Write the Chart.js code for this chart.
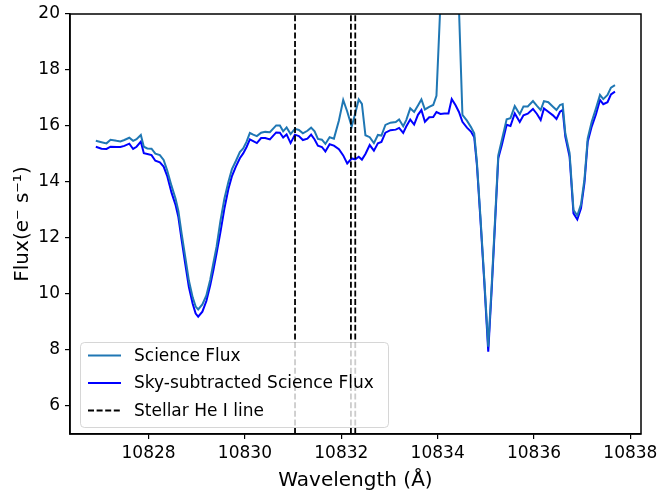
<!DOCTYPE html>
<html>
<head>
<meta charset="utf-8">
<script src="https://cdn.jsdelivr.net/npm/chart.js@4.4.1/dist/chart.umd.min.js"></script>
<style>
    html, body { margin: 0; padding: 0; background: #ffffff; }
    #wrap { width: 657px; height: 493px; }
</style>
</head>
<body>
<div id="wrap"><canvas id="fluxChart" width="657" height="493"></canvas></div>
<script>
// Wavelength grid (Angstrom) shared by both spectra
const wavelength = [
    10826.906, 10827.024, 10827.128, 10827.211, 10827.336, 10827.415, 10827.498, 10827.601, 10827.680, 10827.751,
    10827.840, 10827.902, 10827.975, 10828.062, 10828.141, 10828.235, 10828.313, 10828.386, 10828.477, 10828.561,
    10828.619, 10828.685, 10828.764, 10828.837, 10828.916, 10828.978, 10829.030, 10829.117, 10829.200, 10829.279,
    10829.345, 10829.412, 10829.491, 10829.574, 10829.657, 10829.729, 10829.812, 10829.895, 10829.964, 10830.035,
    10830.103, 10830.172, 10830.248, 10830.336, 10830.421, 10830.518, 10830.649, 10830.726, 10830.794, 10830.865,
    10830.948, 10831.037, 10831.120, 10831.203, 10831.297, 10831.374, 10831.446, 10831.515, 10831.598, 10831.670,
    10831.758, 10831.847, 10831.951, 10832.040, 10832.123, 10832.216, 10832.289, 10832.362, 10832.428, 10832.501,
    10832.590, 10832.677, 10832.760, 10832.833, 10832.916, 10833.020, 10833.130, 10833.200, 10833.285, 10833.348,
    10833.431, 10833.512, 10833.591, 10833.663, 10833.736, 10833.825, 10833.908, 10833.975, 10834.058, 10834.141,
    10834.224, 10834.292, 10834.369, 10834.442, 10834.514, 10834.608, 10834.691, 10834.759, 10834.815, 10834.888,
    10834.967, 10835.050, 10835.121, 10835.189, 10835.258, 10835.332, 10835.432, 10835.511, 10835.600, 10835.704,
    10835.781, 10835.870, 10835.978, 10836.061, 10836.138, 10836.206, 10836.296, 10836.393, 10836.466, 10836.539,
    10836.595, 10836.649, 10836.738, 10836.819, 10836.898, 10836.975, 10837.047, 10837.114, 10837.197, 10837.286,
    10837.369, 10837.437, 10837.525, 10837.597, 10837.680
];

// Raw science spectrum (e-/s)
const scienceFlux = [
    15.47, 15.42, 15.38, 15.51, 15.47, 15.45, 15.50, 15.58, 15.47, 15.53,
    15.68, 15.26, 15.20, 15.19, 15.01, 14.96, 14.79, 14.42, 13.86, 13.40,
    12.97, 12.17, 11.30, 10.48, 9.88, 9.55, 9.45, 9.63, 9.95, 10.50,
    11.10, 11.69, 12.60, 13.40, 14.00, 14.45, 14.75, 15.07, 15.20, 15.44,
    15.75, 15.69, 15.64, 15.76, 15.79, 15.78, 16.02, 16.02, 15.81, 15.95,
    15.71, 15.90, 15.86, 15.74, 15.83, 15.94, 15.81, 15.54, 15.51, 15.36,
    15.60, 15.55, 16.20, 16.93, 16.52, 15.98, 16.45, 16.95, 16.79, 15.67,
    15.60, 15.39, 15.68, 15.66, 16.04, 16.12, 16.14, 16.23, 15.99, 16.21,
    16.63, 16.50, 16.73, 16.95, 16.59, 16.68, 16.75, 17.08, 20.40, 25.00,
    28.00, 26.00, 22.50, 20.20, 16.40, 16.19, 15.96, 15.74, 14.70, 12.75,
    10.55, 8.12, 10.30, 12.60, 14.95, 15.50, 16.24, 16.28, 16.71, 16.42,
    16.70, 16.70, 16.89, 16.72, 16.57, 16.89, 16.85, 16.69, 16.57, 16.75,
    16.78, 15.74, 15.03, 13.00, 12.80, 13.20, 14.10, 15.56, 16.15, 16.63,
    17.11, 16.96, 17.11, 17.37, 17.46
];

// Science spectrum after sky subtraction (e-/s)
const skySubFlux = [
    15.26, 15.19, 15.18, 15.26, 15.25, 15.25, 15.29, 15.37, 15.18, 15.26,
    15.44, 15.03, 15.00, 14.96, 14.76, 14.70, 14.55, 14.22, 13.62, 13.18,
    12.75, 11.95, 11.05, 10.25, 9.65, 9.30, 9.19, 9.37, 9.75, 10.30,
    10.85, 11.45, 12.20, 13.05, 13.75, 14.20, 14.55, 14.85, 15.02, 15.25,
    15.52, 15.46, 15.39, 15.57, 15.57, 15.52, 15.77, 15.76, 15.59, 15.70,
    15.39, 15.69, 15.64, 15.50, 15.55, 15.69, 15.52, 15.30, 15.25, 15.09,
    15.35, 15.30, 15.17, 14.95, 14.66, 14.84, 14.81, 14.90, 14.80, 15.00,
    15.32, 15.12, 15.38, 15.43, 15.76, 15.85, 15.87, 15.93, 15.75, 15.98,
    16.23, 16.05, 16.40, 16.57, 16.15, 16.31, 16.32, 16.50, 16.43, 16.45,
    16.45, 16.96, 16.75, 16.50, 16.15, 15.94, 15.80, 15.60, 14.60, 12.65,
    10.45, 7.94, 10.15, 12.45, 14.85, 15.32, 16.04, 16.00, 16.45, 16.14,
    16.38, 16.44, 16.61, 16.43, 16.21, 16.63, 16.51, 16.38, 16.25, 16.51,
    16.57, 15.62, 14.90, 12.88, 12.66, 13.06, 13.98, 15.44, 15.98, 16.42,
    16.93, 16.78, 16.85, 17.13, 17.23
];

// Positions of the He I 10830 triplet components
const heLineWave = [10831.04, 10832.20, 10832.29];

const xTicks = [10828, 10830, 10832, 10834, 10836, 10838];
const yTicks = [6, 8, 10, 12, 14, 16, 18, 20];
const xRange = [10826.37, 10838.22];
const yRange = [5, 20];

const legendLabels = ['Science Flux', 'Sky-subtracted Science Flux', 'Stellar He I line'];

const FONT = "'DejaVu Sans', sans-serif";

function toPoints(xs, ys) {
    return xs.map(function (x, i) {
        return { x: x, y: ys[i] };
    });
}

const datasets = [
    {
        label: legendLabels[0],
        data: toPoints(wavelength, scienceFlux),
        borderColor: '#1f77b4',
        borderWidth: 2,
        order: 1,
        clip: 0
    },
    {
        label: legendLabels[1],
        data: toPoints(wavelength, skySubFlux),
        borderColor: '#0000ff',
        borderWidth: 2,
        order: 2,
        clip: 0
    }
];

heLineWave.forEach(function (w, i) {
    datasets.push({
        label: i === 0 ? legendLabels[2] : '',
        data: [{ x: w, y: yRange[0] }, { x: w, y: yRange[1] }],
        borderColor: '#000000',
        borderWidth: 1.8,
        borderDash: [6, 2.6],
        order: 0,
        clip: 0
    });
});

// matplotlib-like box around the axes plus a legend inside the plot
const framePlugin = {
    id: 'frame',
    afterDatasetsDraw: function (chart) {
        const ctx = chart.ctx;
        const a = chart.chartArea;
        ctx.save();
        ctx.strokeStyle = '#000';
        ctx.lineWidth = 1.5;
        ctx.strokeRect(a.left, a.top, a.right - a.left, a.bottom - a.top);
        ctx.restore();
    }
};

const legendPlugin = {
    id: 'insetLegend',
    afterDatasetsDraw: function (chart) {
        const ctx = chart.ctx;
        const box = { x: 80, y: 342, w: 308, h: 85, r: 4 };
        const rowY = [355.5, 383, 410.5];
        const handle = [88, 121];
        const textX = 134;

        ctx.save();
        ctx.beginPath();
        ctx.roundRect(box.x + 0.5, box.y + 0.5, box.w, box.h, box.r);
        ctx.fillStyle = 'rgba(255,255,255,0.8)';
        ctx.fill();
        ctx.strokeStyle = 'rgba(204,204,204,0.8)';
        ctx.lineWidth = 1;
        ctx.stroke();

        [0, 1, 2].forEach(function (k) {
            const ds = chart.data.datasets[k];
            ctx.beginPath();
            ctx.setLineDash(ds.borderDash || []);
            ctx.strokeStyle = ds.borderColor;
            ctx.lineWidth = ds.borderWidth;
            ctx.moveTo(handle[0], rowY[k]);
            ctx.lineTo(handle[1], rowY[k]);
            ctx.stroke();
            ctx.setLineDash([]);
            ctx.fillStyle = '#000';
            ctx.font = '17px ' + FONT;
            ctx.textBaseline = 'middle';
            ctx.textAlign = 'left';
            ctx.fillText(legendLabels[k], textX, rowY[k] + 1);
        });
        ctx.restore();
    }
};

Chart.defaults.font.family = FONT;
Chart.defaults.color = '#000';

new Chart(document.getElementById('fluxChart'), {
    type: 'line',
    data: { datasets: datasets },
    options: {
        responsive: false,
        animation: false,
        devicePixelRatio: 1,
        layout: { padding: { left: 0, top: 14, right: 16, bottom: 0 } },
        elements: {
            point: { radius: 0 },
            line: { tension: 0 }
        },
        plugins: {
            legend: { display: false },
            tooltip: { enabled: false }
        },
        scales: {
            x: {
                type: 'linear',
                min: xRange[0],
                max: xRange[1],
                afterBuildTicks: function (scale) {
                    scale.ticks = xTicks.map(function (v) { return { value: v }; });
                },
                afterFit: function (scale) {
                    scale.height = 59;
                    scale.paddingLeft = 0;
                    scale.paddingRight = 0;
                },
                ticks: {
                    autoSkip: false,
                    maxRotation: 0,
                    padding: 4,
                    font: { size: 17 },
                    callback: function (v) { return String(v); }
                },
                grid: {
                    drawOnChartArea: false,
                    drawTicks: true,
                    tickLength: 5,
                    color: '#000',
                    lineWidth: 1.2
                },
                border: { color: '#000', width: 1.5 },
                title: {
                    display: true,
                    text: 'Wavelength (Å)',
                    font: { size: 20 },
                    padding: { top: 0, bottom: 0 }
                }
            },
            y: {
                type: 'linear',
                min: yRange[0],
                max: yRange[1],
                afterBuildTicks: function (scale) {
                    scale.ticks = yTicks.map(function (v) { return { value: v }; });
                },
                afterFit: function (scale) {
                    scale.width = 70;
                    scale.paddingTop = 0;
                    scale.paddingBottom = 0;
                },
                ticks: {
                    padding: 5,
                    font: { size: 17 },
                    callback: function (v) { return String(v); }
                },
                grid: {
                    drawOnChartArea: false,
                    drawTicks: true,
                    tickLength: 5,
                    color: '#000',
                    lineWidth: 1.2
                },
                border: { color: '#000', width: 1.5 },
                title: {
                    display: true,
                    text: 'Flux(e\u207B s\u207B\u00B9)',
                    font: { size: 20 },
                    padding: { top: 11, bottom: 0 }
                }
            }
        }
    },
    plugins: [framePlugin, legendPlugin]
});
</script>
</body>
</html>
